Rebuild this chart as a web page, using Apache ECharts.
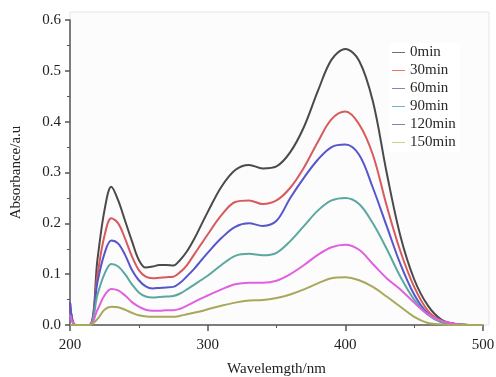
<!DOCTYPE html>
<html><head><meta charset="utf-8">
<script src="https://cdn.jsdelivr.net/npm/echarts@6/dist/echarts.min.js"></script>
<style>html,body{margin:0;padding:0;background:#fff}#c{width:496px;height:377px}</style>
</head><body><div id="c"></div>
<script>
const wavelength = [200,204,214,220,225,230,235,240,245,250,255,260,265,270,275,280,285,290,295,300,310,320,330,340,350,360,370,380,390,400,410,420,430,440,450,460,470,480,490,500];
const seriesNames = ['0min','30min','60min','90min','120min','150min'];
const abs0   = [0.045,0,0,0.13,0.225,0.272,0.245,0.205,0.165,0.128,0.113,0.115,0.118,0.118,0.117,0.128,0.145,0.168,0.195,0.222,0.272,0.305,0.315,0.308,0.312,0.34,0.39,0.46,0.522,0.543,0.52,0.44,0.30,0.175,0.09,0.038,0.01,0.002,0,0];
const abs30  = [0.045,0,0,0.10,0.175,0.21,0.2,0.17,0.135,0.108,0.095,0.092,0.093,0.094,0.095,0.104,0.118,0.138,0.158,0.178,0.216,0.242,0.245,0.238,0.245,0.27,0.31,0.36,0.405,0.42,0.395,0.335,0.235,0.145,0.075,0.028,0.008,0.002,0,0];
const abs60  = [0.045,0,0,0.085,0.14,0.166,0.16,0.138,0.108,0.088,0.076,0.072,0.073,0.074,0.075,0.083,0.096,0.11,0.126,0.142,0.171,0.193,0.2,0.195,0.205,0.25,0.29,0.325,0.35,0.355,0.335,0.27,0.195,0.12,0.06,0.022,0.006,0.002,0,0];
const abs90  = [0.02,0,0,0.06,0.10,0.12,0.115,0.1,0.08,0.064,0.056,0.054,0.055,0.056,0.057,0.062,0.07,0.079,0.088,0.097,0.118,0.136,0.14,0.137,0.142,0.165,0.195,0.225,0.245,0.25,0.238,0.2,0.15,0.095,0.05,0.02,0.005,0.002,0,0];
const abs120 = [0.02,0,0,0.03,0.058,0.071,0.068,0.058,0.045,0.036,0.03,0.028,0.028,0.029,0.029,0.032,0.038,0.045,0.052,0.058,0.07,0.08,0.083,0.083,0.087,0.1,0.118,0.138,0.153,0.158,0.148,0.12,0.092,0.07,0.044,0.021,0.008,0.002,0,0];
const abs150 = [0,0,0,0.012,0.03,0.036,0.035,0.03,0.024,0.019,0.017,0.016,0.016,0.016,0.016,0.018,0.021,0.024,0.027,0.031,0.038,0.044,0.048,0.049,0.053,0.06,0.07,0.082,0.092,0.094,0.088,0.075,0.056,0.036,0.016,0.004,0.001,0,0,0];
const xTicks = [200,300,400,500];
const yTicks = [0,0.1,0.2,0.3,0.4,0.5,0.6];

const allAbs = [abs0,abs30,abs60,abs90,abs120,abs150];
const curveColors = ['#4a4a4a','#d95a5c','#5656cc','#5aa8a0','#e060e0','#a8a85a'];
const legendColors = ['#222222','#f02020','#5a3a8a','#2a80c0','#4a3a7a','#a0c040'];
const font = 'Liberation Serif';

const chart = echarts.init(document.getElementById('c'));
chart.setOption({
  animation:false,
  backgroundColor:'#fff',
  graphic:[{type:'rect',shape:{x:70,y:12,width:419,height:313},style:{fill:'#fcfcfc',stroke:'#e6e6e6',lineWidth:1},z:-10,silent:true}],
  grid:{left:70,right:13,top:20,bottom:52,outerBoundsMode:'none',containLabel:false},
  legend:{
    orient:'vertical',left:390,top:43,
    itemWidth:13,itemHeight:14,itemGap:3,padding:[2,4,2,2],
    backgroundColor:'#ffffff',
    textStyle:{fontFamily:font,fontSize:15,color:'#2a2a2a',lineHeight:14},
    data:seriesNames.map((n,i)=>({name:n,icon:'path://M0,10 L20,10 L20,11 L0,11 Z',itemStyle:{color:legendColors[i]}}))
  },
  xAxis:{
    type:'value',min:200,max:500,interval:100,
    name:'Wavelemgth/nm',nameLocation:'middle',nameGap:37,
    nameTextStyle:{fontFamily:font,fontSize:15,color:'#222'},
    axisLine:{lineStyle:{color:'#555',width:1.5}},
    axisTick:{show:true,inside:false,length:6,lineStyle:{color:'#555',width:1.5}},
    minorTick:{show:true,splitNumber:2,length:3,lineStyle:{color:'#555'}},
    axisLabel:{fontFamily:font,fontSize:15,color:'#222',margin:13,formatter:v=>xTicks.includes(v)?String(v):''},
    splitLine:{show:false}
  },
  yAxis:{
    type:'value',min:0,max:0.6,interval:0.1,
    name:'Absorbance/a.u',nameLocation:'middle',nameGap:46,
    nameTextStyle:{fontFamily:font,fontSize:15,color:'#222'},
    axisLine:{show:true,lineStyle:{color:'#555',width:1.5}},
    axisTick:{show:true,inside:false,length:5,lineStyle:{color:'#555',width:1.5}},
    minorTick:{show:true,splitNumber:2,length:3,lineStyle:{color:'#555'}},
    axisLabel:{fontFamily:font,fontSize:15,color:'#222',margin:9,formatter:v=>{const t=yTicks.find(y=>Math.abs(y-v)<1e-9);return t===undefined?'':t.toFixed(1);}},
    splitLine:{show:false}
  },
  series:seriesNames.map((n,i)=>({
    name:n,type:'line',smooth:0.35,symbol:'none',showSymbol:false,clip:true,
    lineStyle:{color:curveColors[i],width:2},
    itemStyle:{color:curveColors[i]},
    data:wavelength.map((w,k)=>[w,allAbs[i][k]])
  }))
});
</script></body></html>
